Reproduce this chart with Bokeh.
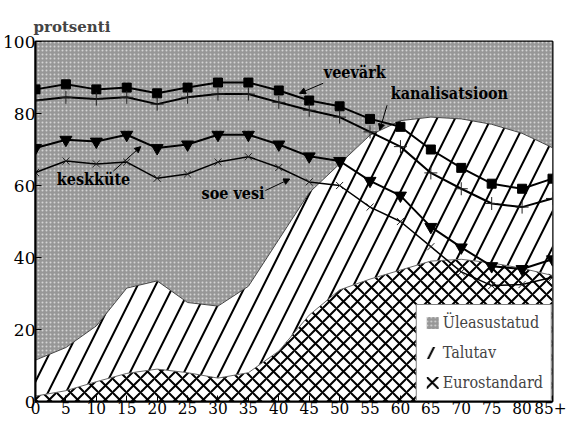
from bokeh.plotting import figure
from bokeh.models import (ColumnDataSource, Range1d, Legend, LegendItem, Label,
                          Arrow, NormalHead, FixedTicker, Title)
from bokeh.embed import file_html
from bokeh.resources import INLINE

# ---- data ----
ages = [0, 5, 10, 15, 20, 25, 30, 35, 40, 45, 50, 55, 60, 65, 70, 75, 80, 85]
age_labels = ["0", "5", "10", "15", "20", "25", "30", "35", "40", "45", "50",
              "55", "60", "65", "70", "75", "80", "85+"]

# housing-density shares (percent), stacked bottom -> top
eurostandard = [1.5, 3, 5.5, 7.8, 9, 8, 6.5, 8, 14, 24, 31, 34, 36.5, 39, 39.5, 38.5, 37, 35]
talutav      = [10, 12, 15.5, 23.7, 24.5, 19.5, 20, 24, 31, 34, 35, 40, 41.5, 40, 39, 38.5, 37.5, 35.5]
uleasustatud = [88.5, 85, 79, 68.5, 66.5, 72.5, 73.5, 68, 55, 42, 34, 26, 22, 21, 21.5, 23, 25.5, 29.5]

# amenities (percent)
veevark        = [86.7, 88.1, 86.7, 87.2, 85.6, 87.2, 88.6, 88.6, 86.4, 83.6, 82, 78.5, 76.3, 70, 64.9, 60.5, 59.1, 61.9]
kanalisatsioon = [83.6, 84.5, 84, 84.5, 82.6, 84.5, 85.4, 85.4, 83.1, 80.9, 79, 74.9, 70.8, 63.5, 59.1, 55, 54, 56.4]
keskkute       = [70.4, 72.7, 72.2, 74.1, 70.4, 71.4, 74.1, 74.1, 71.4, 68.1, 66.8, 61.3, 57.2, 48.5, 42.8, 37.6, 36.8, 39.5]
soe_vesi       = [63.6, 66.8, 66, 66.5, 62, 63.2, 66.5, 68, 65, 61, 60, 54, 50, 43, 36, 32.2, 32.5, 34.5]

euro_top = eurostandard
tal_top = [e + t for e, t in zip(eurostandard, talutav)]
ule_top = [a + u for a, u in zip(tal_top, uleasustatud)]

src = ColumnDataSource(dict(x=ages, zero=[0] * len(ages), euro_top=euro_top,
                            tal_top=tal_top, ule_top=ule_top,
                            veevark=veevark, kanal=kanalisatsioon,
                            keskkute=keskkute, soe=soe_vesi))

SERIF = "DejaVu Serif"
SERIF_C = "DejaVu Serif Condensed"

p = figure(width=566, height=421, output_backend="svg", toolbar_location=None,
           x_range=Range1d(0, 85), y_range=Range1d(0, 100),
           min_border_left=34, min_border_right=14, min_border_top=41, min_border_bottom=20)
p.background_fill_color = "white"
p.border_fill_color = "white"
p.outline_line_color = "black"
p.outline_line_width = 2
p.grid.visible = False

# ---- stacked areas ----
r_ule = p.varea(x="x", y1="tal_top", y2="ule_top", source=src,
                fill_color="#979797", hatch_pattern="dot", hatch_color="#d4d4d4",
                hatch_scale=4, hatch_weight=1)
r_tal = p.varea(x="x", y1="euro_top", y2="tal_top", source=src,
                fill_color="white", hatch_pattern="right_diagonal_line",
                hatch_color="black", hatch_scale=36, hatch_weight=2)
r_euro = p.varea(x="x", y1="zero", y2="euro_top", source=src,
                 fill_color="white", hatch_pattern="diagonal_cross",
                 hatch_color="black", hatch_scale=14, hatch_weight=2)
p.line(x="x", y="tal_top", source=src, line_color="#444444", line_width=1)
p.line(x="x", y="euro_top", source=src, line_color="#666666", line_width=1)

# ---- amenity lines ----
p.line(x="x", y="veevark", source=src, line_color="black", line_width=2)
p.scatter(x="x", y="veevark", source=src, marker="square", size=9,
          fill_color="black", line_color="black")
p.line(x="x", y="kanal", source=src, line_color="black", line_width=2)
p.scatter(x="x", y="kanal", source=src, marker="cross", size=13,
          line_color="#222222", line_width=1)
p.line(x="x", y="keskkute", source=src, line_color="black", line_width=2)
p.scatter(x="x", y="keskkute", source=src, marker="inverted_triangle", size=12,
          fill_color="black", line_color="black")
p.line(x="x", y="soe", source=src, line_color="black", line_width=1.5)
p.scatter(x="x", y="soe", source=src, marker="x", size=10,
          line_color="#222222", line_width=1)

# ---- axes ----
for ax, fnt in ((p.xaxis[0], SERIF_C), (p.yaxis[0], SERIF)):
    ax.axis_line_width = 2
    ax.major_tick_in = 6
    ax.major_tick_out = 0
    ax.minor_tick_line_color = None
    ax.major_label_text_font = fnt
    ax.major_label_text_font_size = "17px"
    ax.major_label_text_color = "black"
    ax.major_label_standoff = 0
p.xaxis.ticker = FixedTicker(ticks=ages)
p.xaxis.major_label_overrides = {a: l for a, l in zip(ages, age_labels)}
p.yaxis.ticker = FixedTicker(ticks=[0, 20, 40, 60, 80, 100])

p.title = Title(text="protsenti", align="left", offset=-2, text_font=SERIF,
                text_font_size="15px", text_font_style="bold", standoff=12)

# ---- annotations ----
def lab(x, y, t):
    p.add_layout(Label(x=x, y=y, text=t, text_font=SERIF_C, text_font_size="16px",
                       text_font_style="bold", text_color="black"))

def leader(x0, y0, x1, y1):
    p.add_layout(Arrow(x_start=x0, y_start=y0, x_end=x1, y_end=y1, line_width=1,
                       end=NormalHead(size=6, fill_color="black", line_color="black")))

lab(47.4, 88.8, "veevärk")
leader(47.3, 88.4, 43.4, 85.6)
lab(58.4, 82.9, "kanalisatsioon")
leader(57.8, 82.3, 56.6, 75.4)
lab(3.5, 59.0, "keskküte")
leader(12.8, 64.0, 17.3, 70.8)
lab(27.3, 55.2, "soe vesi")
leader(37.8, 58.6, 41.8, 61.8)

# ---- legend ----
legend = Legend(items=[LegendItem(label="Üleasustatud", renderers=[r_ule]),
                       LegendItem(label="Talutav", renderers=[r_tal]),
                       LegendItem(label="Eurostandard", renderers=[r_euro])],
                location="bottom_right", margin=0, padding=8, spacing=11,
                glyph_width=15, glyph_height=15, label_standoff=3,
                label_text_font=SERIF_C, label_text_font_size="16px",
                border_line_color="black", border_line_width=1,
                background_fill_color="white", background_fill_alpha=1)
p.add_layout(legend)

open("out.html", "w").write(file_html(p, INLINE))
